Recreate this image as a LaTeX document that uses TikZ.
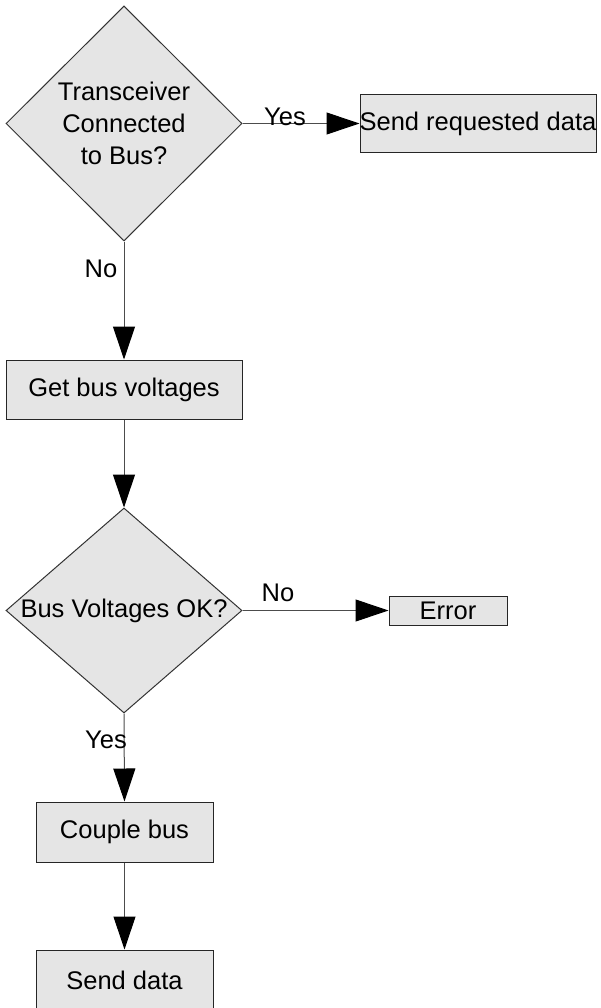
\documentclass[tikz,border=0pt]{standalone}
\usepackage{fontspec}
\setmainfont{Liberation Sans}
\usetikzlibrary{shapes.geometric,arrows.meta}
\begin{document}
\begin{tikzpicture}[x=1pt,y=-1pt,
  every node/.style={font=\fontsize{25.5}{32}\selectfont, text=black},
  procbox/.style={draw=black!85, fill=black!10, line width=1pt, inner sep=0pt, minimum width=#1, minimum height=59pt},
  procbox/.default=236pt,
  decision/.style={diamond, draw=black!80, fill=black!10, line width=1pt, inner sep=0pt, align=center},
  flow/.style={draw=black!70, line width=1pt, -{Triangle[length=33pt,width=22pt,fill=black,color=black]}},
  lbl/.style={inner sep=0pt}]
\useasboundingbox (0,0) rectangle (600,1008);
\node[decision, minimum width=236pt, minimum height=235pt] (d1) at (124,123.5) {Transceiver\\Connected\\to Bus?};
\node[procbox, minimum height=58pt] (req) at (478,124) {\makebox[0pt]{Send requested data}};
\node[procbox] (get) at (124,389.5) {Get bus voltages};
\node[decision, minimum width=236pt, minimum height=205pt] (d2) at (124,610.5) {\makebox[0pt]{Bus Voltages OK?}};
\node[procbox=118pt, minimum height=29pt] (err) at (448,610.5) {Error};
\node[procbox=177pt, minimum height=60pt] (couple) at (124.5,832) {Couple bus};
\node[procbox=177pt, minimum height=60pt] (send) at (124.5,980) {Send data};
\draw[flow] (d1.east) -- (d1.east -| req.west);
\draw[flow] (d1.south) -- (get.north);
\draw[flow] (get.south) -- (d2.north);
\draw[flow] (d2.east) -- (err.west);
\draw[flow] (d2.south) -- (couple.north);
\draw[flow] (couple.south) -- (send.north);
\node[lbl] (yes1) at (285,117) {Yes};
\node[lbl] (no1) at (101,269) {No};
\node[lbl] (no2) at (278,593) {No};
\node[lbl] (yes2) at (106,740) {Yes};
\end{tikzpicture}
\end{document}
